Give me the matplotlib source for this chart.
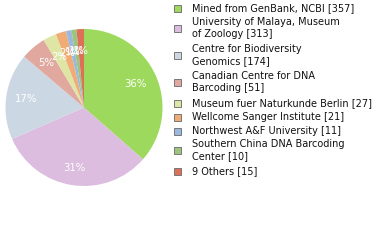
import math
import matplotlib
matplotlib.use('Agg')
import matplotlib.pyplot as plt
from matplotlib.patches import Rectangle

# ======================== data ================================

labels = ['Mined from GenBank, NCBI [357]',
          'University of Malaya, Museum\nof Zoology [313]',
          'Centre for Biodiversity\nGenomics [174]',
          'Canadian Centre for DNA\nBarcoding [51]',
          'Museum fuer Naturkunde Berlin [27]',
          'Wellcome Sanger Institute [21]',
          'Northwest A&F University [11]',
          'Southern China DNA Barcoding\nCenter [10]',
          '9 Others [15]']
counts = [357, 313, 174, 51, 27, 21, 11, 10, 15]
colors = ['#9cd95c', '#dcbddf', '#cbd8e4', '#e0a89e', '#dee5a5',
          '#f0ac74', '#9bb9df', '#9cc47a', '#dc7058']

# ======================== figure ================================

W, H = 380, 240
fig = plt.figure(figsize=(W/100, H/100), dpi=100)

# pie axis: center (84,107), radius ~78 px
cx, cy, r = 84, 107.5, 78.5
ax = fig.add_axes([(cx - r)/W, 1 - (cy + r)/H, 2*r/W, 2*r/H])
wedges, texts = ax.pie(counts, colors=colors, startangle=90, counterclock=False,
                       radius=1.0, wedgeprops=dict(linewidth=0))
ax.set_xlim(-1, 1)
ax.set_ylim(-1, 1)
ax.set_aspect('equal')
ax.axis('off')

# percent labels (truncated, as in the reference)
total = sum(counts)
label_dist = [0.72, 0.78, 0.75, 0.75, 0.72, 0.72, 0.72, 0.72, 0.72]
for w, n, d in zip(wedges, counts, label_dist):
    mid = math.radians((w.theta1 + w.theta2) / 2)
    ax.text(d * math.cos(mid), d * math.sin(mid), '%d%%' % int(100 * n / total),
            color='white', fontsize=7.3, ha='center', va='center')

# legend drawn by hand, positions in pixels from top
text_y = [[8], [22, 34], [49, 61], [76, 88], [103], [117], [131], [144, 156], [171]]
lax = fig.add_axes([0, 0, 1, 1])
lax.set_xlim(0, W)
lax.set_ylim(H, 0)
lax.axis('off')
for lab, col, ys in zip(labels, colors, text_y):
    sq_y = sum(ys) / len(ys)
    lax.add_patch(Rectangle((173.5, sq_y - 3.5), 7, 7, facecolor=col,
                            edgecolor='#777777', linewidth=0.7))
    for line, y in zip(lab.split('\n'), ys):
        lax.text(192, y, line, fontsize=7.0, color='#111111', va='center', ha='left')

fig.savefig('out.png', dpi=100)
